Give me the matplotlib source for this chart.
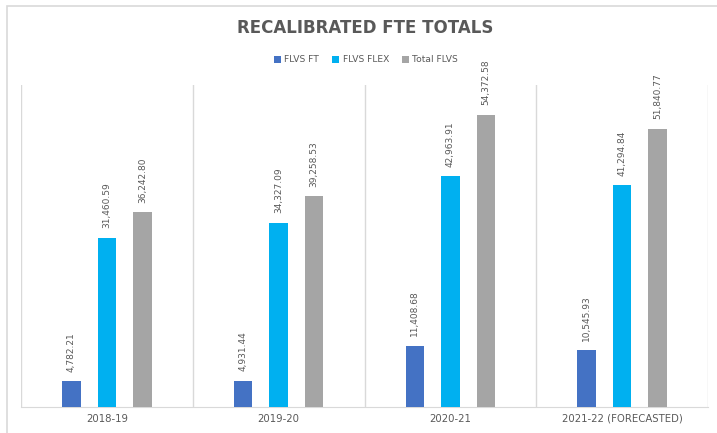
import matplotlib
matplotlib.use("Agg")
import matplotlib.pyplot as plt
import numpy as np
from matplotlib.patches import Rectangle

categories = ["2018-19", "2019-20", "2020-21", "2021-22 (FORECASTED)"]
series_names = ["FLVS FT", "FLVS FLEX", "Total FLVS"]
flvs_ft = [4782.21, 4931.44, 11408.68, 10545.93]
flvs_flex = [31460.59, 34327.09, 42963.91, 41294.84]
total_flvs = [36242.80, 39258.53, 54372.58, 51840.77]
ft_labels = ["4,782.21", "4,931.44", "11,408.68", "10,545.93"]
flex_labels = ["31,460.59", "34,327.09", "42,963.91", "41,294.84"]
total_labels = ["36,242.80", "39,258.53", "54,372.58", "51,840.77"]
colors = ["#4472C4", "#00B0F0", "#A5A5A5"]

fig = plt.figure(figsize=(7.17, 4.33), dpi=100)
ax = fig.add_axes([21/717, 26/433, 687/717, 322/433])

x = np.arange(len(categories))
width = 0.108
offsets = [-0.207, 0.0, 0.207]
all_vals = [flvs_ft, flvs_flex, total_flvs]
all_labels = [ft_labels, flex_labels, total_labels]
for vals, labs, off, col, name in zip(all_vals, all_labels, offsets, colors, series_names):
    bars = ax.bar(x + off, vals, width, color=col, label=name, zorder=3)
    for b, v, lab in zip(bars, vals, labs):
        ax.annotate(lab, (b.get_x() + b.get_width()/2, v), xytext=(0, 7),
                    textcoords="offset points", rotation=90, ha="center", va="bottom",
                    fontsize=6.5, color="#595959")

ax.set_xlim(-0.5, 3.5)
ax.set_ylim(0, 60000)
for xv in [-0.5, 0.5, 1.5, 2.5, 3.5]:
    ax.axvline(xv, color="#D9D9D9", lw=1, zorder=1)
for s in ["left", "right", "top"]:
    ax.spines[s].set_visible(False)
ax.spines["bottom"].set_color("#D9D9D9")
ax.set_yticks([])
ax.set_xticks(x)
ax.set_xticklabels(categories, fontsize=7.3, color="#595959")
ax.tick_params(axis="x", length=0, pad=5)

fig.text(365/717, 1 - 28/433, "RECALIBRATED FTE TOTALS", ha="center", va="center",
         fontsize=12, fontweight="bold", color="#595959")
fig.legend(loc="center", bbox_to_anchor=(366/717, 1 - 60/433), ncol=3, frameon=False,
           fontsize=6.6, labelcolor="#595959", handlelength=0.75, handleheight=0.75,
           columnspacing=1.4, handletextpad=0.4)

fig.patches.append(Rectangle((7/717, -0.1), 1.2, 1.1 - 6/433, transform=fig.transFigure,
                             fill=False, edgecolor="#D9D9D9", lw=1.2))
fig.savefig("out.png", dpi=100)
